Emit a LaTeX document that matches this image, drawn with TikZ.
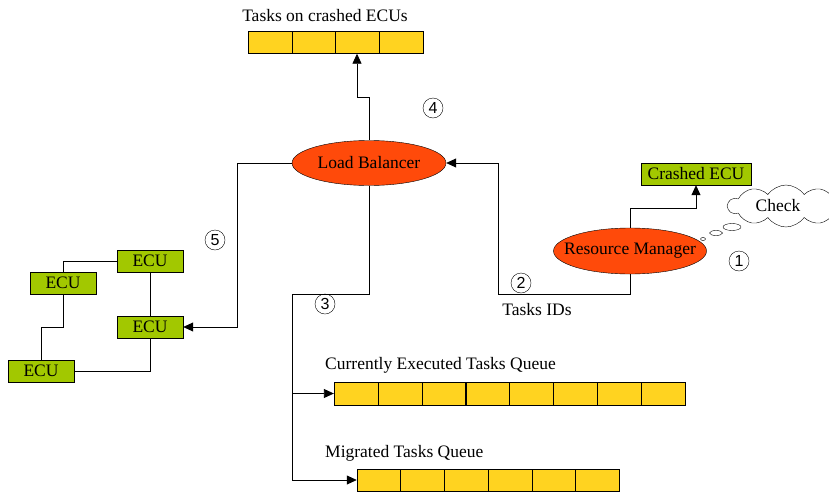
\documentclass[tikz,border=0pt]{standalone}
\usepackage{fontspec}
\setmainfont{Liberation Serif}
\newfontfamily\numfont{Liberation Sans}
\usetikzlibrary{shapes.geometric,shapes.symbols,arrows.meta}
\definecolor{unitred}{HTML}{FF4A0A}
\definecolor{ecugreen}{HTML}{A2C800}
\definecolor{cellyellow}{HTML}{FFD320}
\begin{document}
\begin{tikzpicture}
		[x=1pt,y=-1pt,
		unit/.style={ellipse,draw,fill=unitred,inner sep=0pt,font=\fontsize{17.5}{19}\selectfont},
		ecu/.style={draw,fill=ecugreen,minimum width=66pt,minimum height=22pt,inner sep=0pt,font=\fontsize{17.5}{19}\selectfont},
		cell/.style={draw,fill=cellyellow,minimum width=43.8pt,minimum height=22pt,inner sep=0pt},
		label/.style={font=\fontsize{17.5}{19}\selectfont,inner sep=0pt},
		stepno/.style={circle,draw,minimum size=20pt,inner sep=0pt,font=\numfont\fontsize{16}{18}\selectfont},
		link/.style={draw,line width=0.8pt},
		arr/.style={link,-{Triangle[length=10pt,width=9pt]}}]
		\useasboundingbox (0,0) rectangle (829,498);

		% the two managers
		\node[unit,minimum width=154pt,minimum height=45pt] (lb) at (369,163) {\makebox[0pt]{Load Balancer}};
		\node[unit,minimum width=153pt,minimum height=46pt] (rm) at (630,251) {\makebox[0pt]{Resource Manager}};

		% the queues
		\node[label] (crashlbl) at (325,16) {Tasks on crashed ECUs};
		\foreach \i in {1,...,4}
			\node[cell] (crash\i) at ({248+43.75*(\i-0.5)},42.5) {};
		\node[label,anchor=west] (curlbl) at (325,365) {Currently Executed Tasks Queue};
		\foreach \i in {1,...,8}
			\node[cell,minimum height=23pt] (cur\i) at ({334+43.9*(\i-0.5)},393.5) {};
		\node[label,anchor=west] (miglbl) at (325,453) {Migrated Tasks Queue};
		\foreach \i in {1,...,6}
			\node[cell] (mig\i) at ({357+43.7*(\i-0.5)},480) {};

		% the ECUs
		\node[ecu] (ecua) at (150,261) {ECU};
		\node[ecu] (ecub) at (63,283) {ECU};
		\node[ecu] (ecuc) at (150,327) {ECU};
		\node[ecu] (ecud) at (41,371) {ECU};
		\node[ecu,minimum width=110pt] (crashed) at (696,174) {Crashed ECU};

		% the thought of the resource manager
		\node[cloud,draw,cloud puffs=10,cloud puff arc=110,aspect=2.6,minimum width=116pt,minimum height=42pt,fill=white,font=\fontsize{17.5}{19}\selectfont] (check) at (786,206) {\hspace*{-16pt}Check};
		\node[ellipse,draw,minimum width=18pt,minimum height=7pt,inner sep=0pt] (bub1) at (732,227) {};
		\node[ellipse,draw,minimum width=13pt,minimum height=5pt,inner sep=0pt] (bub2) at (716,233) {};
		\node[ellipse,draw,minimum width=5pt,minimum height=3pt,inner sep=0pt] (bub3) at (703,239) {};

		% the step numbers
		\node[stepno] (s1) at (739,261) {1};
		\node[stepno] (s2) at (521,283) {2};
		\node[stepno] (s3) at (325,304) {3};
		\node[stepno] (s4) at (433,108) {4};
		\node[stepno] (s5) at (215,240) {5};
		\node[label] (ids) at (537,310) {Tasks IDs};

		% ECU wiring
		\draw[link] (ecua.west) -| (ecub.north);
		\draw[link] (ecua.south) -- (ecuc.north);
		\draw[link] (ecub.south) |- (41,327) -- (ecud.north);
		\draw[link] (ecud.east) -| (ecuc.south);

		%draw the arrows
		\draw[arr] (rm.north) |- (696,208) -- (crashed.south);
		\draw[arr] (rm.south) |- (498,294) |- (lb.east);
		\draw[arr] (lb.north) |- (357,97) -- (crash3.south -| 357,0);
		\draw[arr] (lb.west) -| (237,327) -- (ecuc.east);
		\draw[link] (lb.south) |- (292,294) -- (292,480);
		\draw[arr] (292,393.5) -- (cur1.west);
		\draw[arr] (292,480) -- (mig1.west);
	\end{tikzpicture}
\end{document}
